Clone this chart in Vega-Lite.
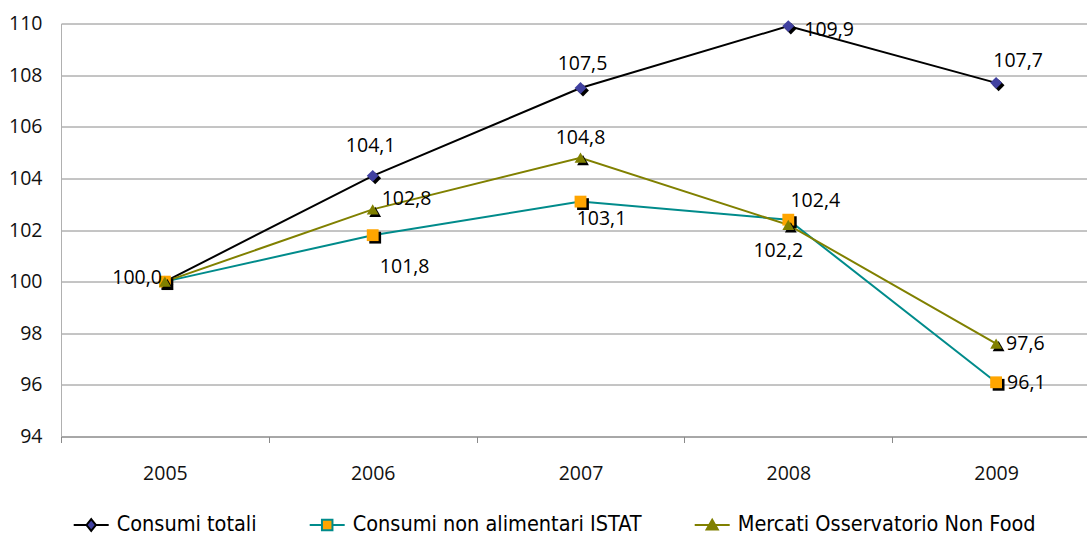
{
  "$schema": "https://vega.github.io/schema/vega-lite/v6.json",
  "autosize": {"type": "none"},
  "width": 1039,
  "height": 413,
  "padding": {"left": 61, "top": 23.5, "right": -13, "bottom": 99.5},
  "background": "white",
  "config": {
    "view": {"stroke": null},
    "locale": {"number": {"decimal": ",", "thousands": ".", "grouping": [3], "currency": ["", " €"]}},
    "text": {"font": "Open Sans", "fontSize": 19.5, "color": "#000000"}
  },
  "data": {
    "values": [
      {"year": "2005", "series": "Consumi totali", "value": 100.0},
      {"year": "2006", "series": "Consumi totali", "value": 104.1},
      {"year": "2007", "series": "Consumi totali", "value": 107.5},
      {"year": "2008", "series": "Consumi totali", "value": 109.9},
      {"year": "2009", "series": "Consumi totali", "value": 107.7},
      {"year": "2005", "series": "Consumi non alimentari ISTAT", "value": 100.0},
      {"year": "2006", "series": "Consumi non alimentari ISTAT", "value": 101.8},
      {"year": "2007", "series": "Consumi non alimentari ISTAT", "value": 103.1},
      {"year": "2008", "series": "Consumi non alimentari ISTAT", "value": 102.4},
      {"year": "2009", "series": "Consumi non alimentari ISTAT", "value": 96.1},
      {"year": "2005", "series": "Mercati Osservatorio Non Food", "value": 100.0},
      {"year": "2006", "series": "Mercati Osservatorio Non Food", "value": 102.8},
      {"year": "2007", "series": "Mercati Osservatorio Non Food", "value": 104.8},
      {"year": "2008", "series": "Mercati Osservatorio Non Food", "value": 102.2},
      {"year": "2009", "series": "Mercati Osservatorio Non Food", "value": 97.6}
    ]
  },
  "encoding": {
    "x": {
      "field": "year", "type": "nominal", "title": null,
      "scale": {"paddingInner": 0, "paddingOuter": 0},
      "axis": {
        "labelAngle": 0, "labelFont": "Open Sans", "labelFontSize": 19.5, "labelColor": "#111111",
        "domainColor": "#8a8a8a", "tickColor": "#8a8a8a", "tickSize": 6, "tickBand": "extent",
        "labelPadding": 22, "grid": false
      }
    },
    "y": {
      "field": "value", "type": "quantitative", "title": null,
      "scale": {"domain": [94, 110], "nice": false, "zero": false},
      "axis": {
        "values": [94, 96, 98, 100, 102, 104, 106, 108, 110],
        "labelFont": "Open Sans", "labelFontSize": 19.5, "labelColor": "#111111",
        "ticks": false, "labelPadding": 19, "grid": true, "gridColor": "#8a8a8a",
        "domainColor": "#b0b0b0"
      }
    }
  },
  "layer": [
    {
      "mark": {"type": "line", "strokeWidth": 2},
      "encoding": {
        "stroke": {
          "field": "series", "type": "nominal",
          "scale": {
            "domain": ["Consumi totali", "Consumi non alimentari ISTAT", "Mercati Osservatorio Non Food"],
            "range": ["#000000", "#008B8B", "#808000"]
          },
          "legend": {
            "orient": "none", "legendX": 11.7, "legendY": 483, "direction": "horizontal",
            "title": null, "padding": 0, "symbolSize": 1225, "symbolStrokeWidth": 2,
            "labelFont": "DejaVu Sans Condensed", "labelFontSize": 21.5, "labelColor": "#000000",
            "labelOffset": 7, "columnPadding": 49, "labelLimit": 500,
            "encode": {
              "symbols": {
                "update": {
                  "shape": {"signal": "datum.value === 'Consumi totali' ? 'M-1,0H-0.27M0.27,0H1M-0.27,0L0,-0.34L0.27,0L0,0.34Z' : datum.value === 'Consumi non alimentari ISTAT' ? 'M-1,0H-0.3M0.3,0H1M-0.3,-0.3H0.3V0.3H-0.3Z' : 'M-1,0H-0.17M0.17,0H1M-0.32,0.26L0.32,0.26L0,-0.3Z'"},
                  "fill": {"signal": "datum.value === 'Consumi totali' ? '#4040A0' : datum.value === 'Consumi non alimentari ISTAT' ? '#FFA500' : '#808000'"},
                  "fillOpacity": {"value": 1},
                  "strokeWidth": {"value": 2}
                }
              }
            }
          }
        }
      }
    },
    {
      "transform": [{"filter": "datum.series === 'Consumi totali'"}],
      "mark": {"type": "point", "shape": "diamond", "filled": true, "opacity": 1, "size": 140, "xOffset": 2.5, "yOffset": 2.5, "color": "#000000"}
    },
    {
      "transform": [{"filter": "datum.series === 'Consumi totali'"}],
      "mark": {"type": "point", "shape": "diamond", "filled": true, "opacity": 1, "size": 140, "color": "#4040A0"}
    },
    {
      "transform": [{"filter": "datum.series === 'Consumi non alimentari ISTAT'"}],
      "mark": {"type": "point", "shape": "square", "filled": true, "opacity": 1, "size": 140, "xOffset": 2.5, "yOffset": 2.5, "color": "#000000"}
    },
    {
      "transform": [{"filter": "datum.series === 'Consumi non alimentari ISTAT'"}],
      "mark": {"type": "point", "shape": "square", "filled": true, "opacity": 1, "size": 140, "color": "#FFA500"}
    },
    {
      "transform": [{"filter": "datum.series === 'Mercati Osservatorio Non Food'"}],
      "mark": {"type": "point", "shape": "triangle-up", "filled": true, "opacity": 1, "size": 140, "xOffset": 2.5, "yOffset": 2.5, "color": "#000000"}
    },
    {
      "transform": [{"filter": "datum.series === 'Mercati Osservatorio Non Food'"}],
      "mark": {"type": "point", "shape": "triangle-up", "filled": true, "opacity": 1, "size": 140, "color": "#808000"}
    },
    {
      "transform": [{"filter": "datum.series === 'Consumi totali' && datum.year === '2005'"}],
      "mark": {"type": "text", "align": "right", "baseline": "middle", "dx": -3, "dy": -4},
      "encoding": {"text": {"field": "value", "type": "quantitative", "format": ".1f"}}
    },
    {
      "transform": [{"filter": "datum.series === 'Consumi totali' && datum.year === '2006'"}],
      "mark": {"type": "text", "align": "center", "baseline": "middle", "dx": -2, "dy": -30},
      "encoding": {"text": {"field": "value", "type": "quantitative", "format": ".1f"}}
    },
    {
      "transform": [{"filter": "datum.series === 'Consumi totali' && datum.year === '2007'"}],
      "mark": {"type": "text", "align": "center", "baseline": "middle", "dx": 2, "dy": -24},
      "encoding": {"text": {"field": "value", "type": "quantitative", "format": ".1f"}}
    },
    {
      "transform": [{"filter": "datum.series === 'Consumi totali' && datum.year === '2008'"}],
      "mark": {"type": "text", "align": "left", "baseline": "middle", "dx": 16, "dy": 4},
      "encoding": {"text": {"field": "value", "type": "quantitative", "format": ".1f"}}
    },
    {
      "transform": [{"filter": "datum.series === 'Consumi totali' && datum.year === '2009'"}],
      "mark": {"type": "text", "align": "center", "baseline": "middle", "dx": 22, "dy": -22},
      "encoding": {"text": {"field": "value", "type": "quantitative", "format": ".1f"}}
    },
    {
      "transform": [{"filter": "datum.series === 'Consumi non alimentari ISTAT' && datum.year === '2006'"}],
      "mark": {"type": "text", "align": "center", "baseline": "middle", "dx": 32, "dy": 32},
      "encoding": {"text": {"field": "value", "type": "quantitative", "format": ".1f"}}
    },
    {
      "transform": [{"filter": "datum.series === 'Consumi non alimentari ISTAT' && datum.year === '2007'"}],
      "mark": {"type": "text", "align": "center", "baseline": "middle", "dx": 21, "dy": 17},
      "encoding": {"text": {"field": "value", "type": "quantitative", "format": ".1f"}}
    },
    {
      "transform": [{"filter": "datum.series === 'Consumi non alimentari ISTAT' && datum.year === '2008'"}],
      "mark": {"type": "text", "align": "center", "baseline": "middle", "dx": 27, "dy": -19},
      "encoding": {"text": {"field": "value", "type": "quantitative", "format": ".1f"}}
    },
    {
      "transform": [{"filter": "datum.series === 'Consumi non alimentari ISTAT' && datum.year === '2009'"}],
      "mark": {"type": "text", "align": "left", "baseline": "middle", "dx": 11, "dy": 1},
      "encoding": {"text": {"field": "value", "type": "quantitative", "format": ".1f"}}
    },
    {
      "transform": [{"filter": "datum.series === 'Mercati Osservatorio Non Food' && datum.year === '2006'"}],
      "mark": {"type": "text", "align": "left", "baseline": "middle", "dx": 9, "dy": -10},
      "encoding": {"text": {"field": "value", "type": "quantitative", "format": ".1f"}}
    },
    {
      "transform": [{"filter": "datum.series === 'Mercati Osservatorio Non Food' && datum.year === '2007'"}],
      "mark": {"type": "text", "align": "center", "baseline": "middle", "dx": 0, "dy": -20},
      "encoding": {"text": {"field": "value", "type": "quantitative", "format": ".1f"}}
    },
    {
      "transform": [{"filter": "datum.series === 'Mercati Osservatorio Non Food' && datum.year === '2008'"}],
      "mark": {"type": "text", "align": "center", "baseline": "middle", "dx": -10, "dy": 26},
      "encoding": {"text": {"field": "value", "type": "quantitative", "format": ".1f"}}
    },
    {
      "transform": [{"filter": "datum.series === 'Mercati Osservatorio Non Food' && datum.year === '2009'"}],
      "mark": {"type": "text", "align": "left", "baseline": "middle", "dx": 10, "dy": 0},
      "encoding": {"text": {"field": "value", "type": "quantitative", "format": ".1f"}}
    }
  ]
}
